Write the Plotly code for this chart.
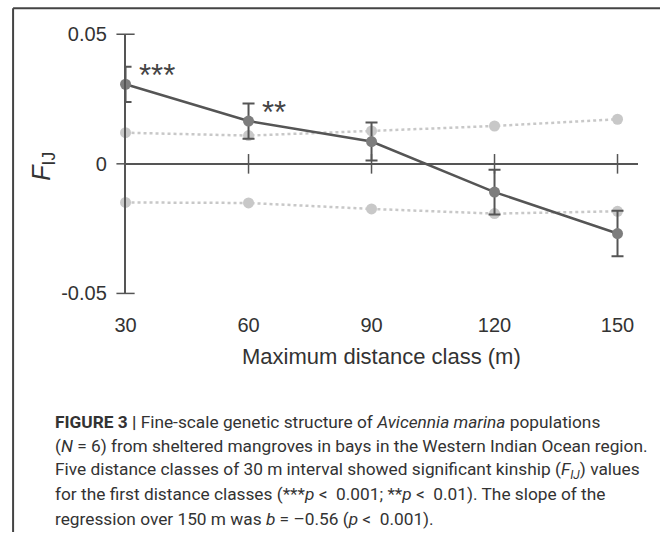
import plotly.graph_objects as go

# ---- data ----
distance = [30, 60, 90, 120, 150]
fij = [0.0307, 0.0165, 0.0086, -0.0109, -0.0269]
fij_err = [0.0068, 0.0068, 0.0073, 0.0086, 0.0088]
upper_ci = [0.0120, 0.0109, 0.0127, 0.0146, 0.0172]
lower_ci = [-0.0149, -0.0151, -0.0174, -0.0192, -0.0183]
signif = ["***", "**", "", "", ""]
x_ticks = [30, 60, 90, 120, 150]
y_ticks = [-0.05, 0, 0.05]
y_tick_text = ["-0.05", "0", "0.05"]

caption_lines = [
    "<b>FIGURE 3 |</b> Fine-scale genetic structure of <i>Avicennia marina</i> populations",
    "(<i>N</i> = 6) from sheltered mangroves in bays in the Western Indian Ocean region.",
    "Five distance classes of 30 m interval showed significant kinship (<i>F<sub>IJ</sub></i>) values",
    "for the first distance classes (***<i>p</i> &lt;  0.001; **<i>p</i> &lt;  0.01). The slope of the",
    "regression over 150 m was <i>b</i> = \u20130.56 (<i>p</i> &lt;  0.001).",
]

# page layout helpers (body margin and viewport scaling)
OFF = 8
SX = 676 / 668
SY = 559 / 538
DX = 2
DY = 3
FW = round(668 * SX) - 2 * OFF
FH = round(538 * SY) - 2 * OFF


def px(x):
    return ((x - DX) * SX - OFF) / FW


def py(y):
    return 1 - ((y - DY) * SY - OFF) / FH


FONT = "Liberation Sans, Arial, sans-serif"
CAP_FONT = "Roboto, Liberation Sans, Arial, sans-serif"
AX = "#555555"

fig = go.Figure()

# confidence envelopes (dotted)
for ci in (upper_ci, lower_ci):
    fig.add_trace(go.Scatter(
        x=distance, y=ci, mode="lines+markers",
        line=dict(color="#c8c8c8", width=2.5, dash="dot"),
        marker=dict(color="#c8c8c8", size=11),
        cliponaxis=False, showlegend=False, hoverinfo="skip"))

# axis tick crosses (drawn from tick arrays)
fig.add_trace(go.Scatter(
    x=[x_ticks[0]] * len(y_ticks), y=y_ticks, mode="markers",
    marker=dict(symbol="line-ew", size=13, line=dict(color=AX, width=1.5)),
    cliponaxis=False, showlegend=False, hoverinfo="skip"))
fig.add_trace(go.Scatter(
    x=x_ticks[1:], y=[0] * (len(x_ticks) - 1), mode="markers",
    marker=dict(symbol="line-ns", size=14, line=dict(color=AX, width=1.5)),
    cliponaxis=False, showlegend=False, hoverinfo="skip"))

# observed kinship
fig.add_trace(go.Scatter(
    x=distance, y=fij, mode="lines+markers",
    line=dict(color="#555555", width=2.5),
    marker=dict(color="#7d7d7d", size=11),
    error_y=dict(type="data", array=fij_err, visible=True,
                 color="#555555", thickness=2, width=6),
    cliponaxis=False, showlegend=False, hoverinfo="skip"))

annotations = []
for xv, yv, s in zip(distance, fij, signif):
    if s:
        annotations.append(dict(
            x=xv, y=yv, xref="x", yref="y", text=s, showarrow=False,
            xanchor="left", yanchor="middle", xshift=11, yshift=9,
            font=dict(family=FONT, size=31, color="#444444")))

# axis titles
annotations.append(dict(
    x=px(382), y=py(357), xref="paper", yref="paper",
    text="Maximum distance class (m)", showarrow=False,
    xanchor="center", yanchor="middle",
    font=dict(family=FONT, size=22, color="#333333")))
annotations.append(dict(
    x=px(42), y=py(166), xref="paper", yref="paper",
    text="<i>F</i><sub>IJ</sub>", showarrow=False, textangle=-90,
    xanchor="center", yanchor="middle",
    font=dict(family=FONT, size=25, color="#333333")))

# caption
for i, line in enumerate(caption_lines):
    annotations.append(dict(
        x=px(52), y=py(423 + 24.2 * i), xref="paper", yref="paper",
        text=line, showarrow=False, xanchor="left", yanchor="middle",
        font=dict(family=CAP_FONT, size=17.3, color="#333333")))

fig.update_layout(
    width=FW, height=FH, margin=dict(l=0, r=0, t=0, b=0),
    paper_bgcolor="white", plot_bgcolor="white",
    annotations=annotations,
    shapes=[dict(type="line", xref="paper", yref="paper",
                 x0=px(12), y0=0, x1=px(12), y1=py(8),
                 line=dict(color="#444444", width=2)),
            dict(type="line", xref="paper", yref="paper",
                 x0=px(12), y0=py(8), x1=1, y1=py(8),
                 line=dict(color="#444444", width=2))],
    xaxis=dict(domain=[px(125), px(640)], range=[30, 155],
               tickvals=x_ticks, ticks="", showline=False,
               showgrid=False, zeroline=False, ticklabelstandoff=18,
               tickfont=dict(family=FONT, size=20, color="#333333")),
    yaxis=dict(domain=[py(294), py(34)], range=[-0.05, 0.05],
               tickvals=y_ticks, ticktext=y_tick_text, ticks="",
               showline=True, linecolor=AX, linewidth=1.5,
               showgrid=False, zeroline=True, zerolinecolor=AX,
               zerolinewidth=1.5, ticklabelstandoff=13,
               tickfont=dict(family=FONT, size=20, color="#333333")),
)

fig.write_html("out.html")
